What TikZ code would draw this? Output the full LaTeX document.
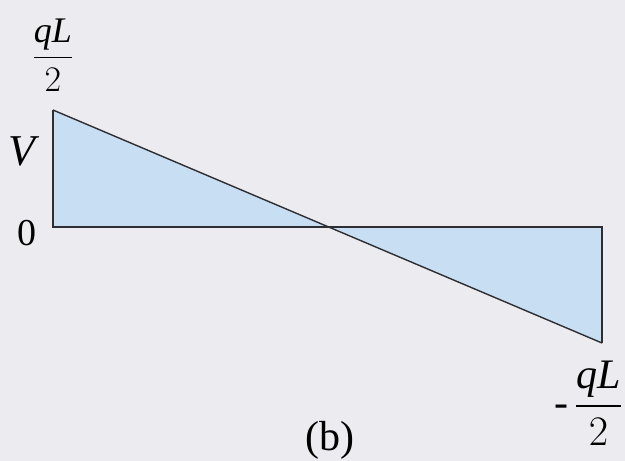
\RequirePackage{fix-cm}
\documentclass[tikz,border=0pt]{standalone}
\usepackage{amsmath, amssymb}
\usepackage{fontspec}
\setmainfont{Liberation Serif}
\usepackage{xcolor}
\usepackage{tikz}
\definecolor{panel}{RGB}{236,236,240}
\definecolor{shearfill}{RGB}{200,222,242}
\definecolor{edge}{RGB}{45,45,50}

\begin{document}
\begin{tikzpicture}[x=1pt, y=-1pt, every node/.style={inner sep=0pt},
  lbl/.style={font=\fontsize{38}{44}\selectfont},
  area/.style={fill=shearfill, draw=none},
  outline/.style={draw=edge, line width=1.5pt, line join=miter}]
% background fixes the margins
\fill[panel] (0,0) rectangle (625,461);
\useasboundingbox (0,0) rectangle (625,461);
% corners of the shear diagram
\coordinate (top) at (53,110);
\coordinate (origin) at (53,227);
\coordinate (cross) at (328.5,227);
\coordinate (end) at (602,227);
\coordinate (bottom) at (602,343);
\fill[area] (top) -- (origin) -- (cross) -- cycle;
\fill[area] (cross) -- (end) -- (bottom) -- cycle;
\draw[outline] (top) -- (origin) -- (end) -- (bottom);
\draw[edge, line width=1.4pt] (top) -- (bottom);
% labels
\node[lbl, font=\fontsize{36}{40}\selectfont] (vmax) at (53,55) {$\dfrac{\textit{qL}}{2}$};
\node[lbl, font=\fontsize{44}{50}\selectfont] (V) at (24,151) {\textit{V}};
\node[lbl] (zero) at (27,233) {0};
\node[lbl, font=\fontsize{42}{48}\selectfont] (vmin) at (588,403) {$\text{-}\,\dfrac{\textit{qL}}{2}$};
\node[lbl, font=\fontsize{42}{48}\selectfont] (cap) at (330,440) {(b)};
\end{tikzpicture}
\end{document}
